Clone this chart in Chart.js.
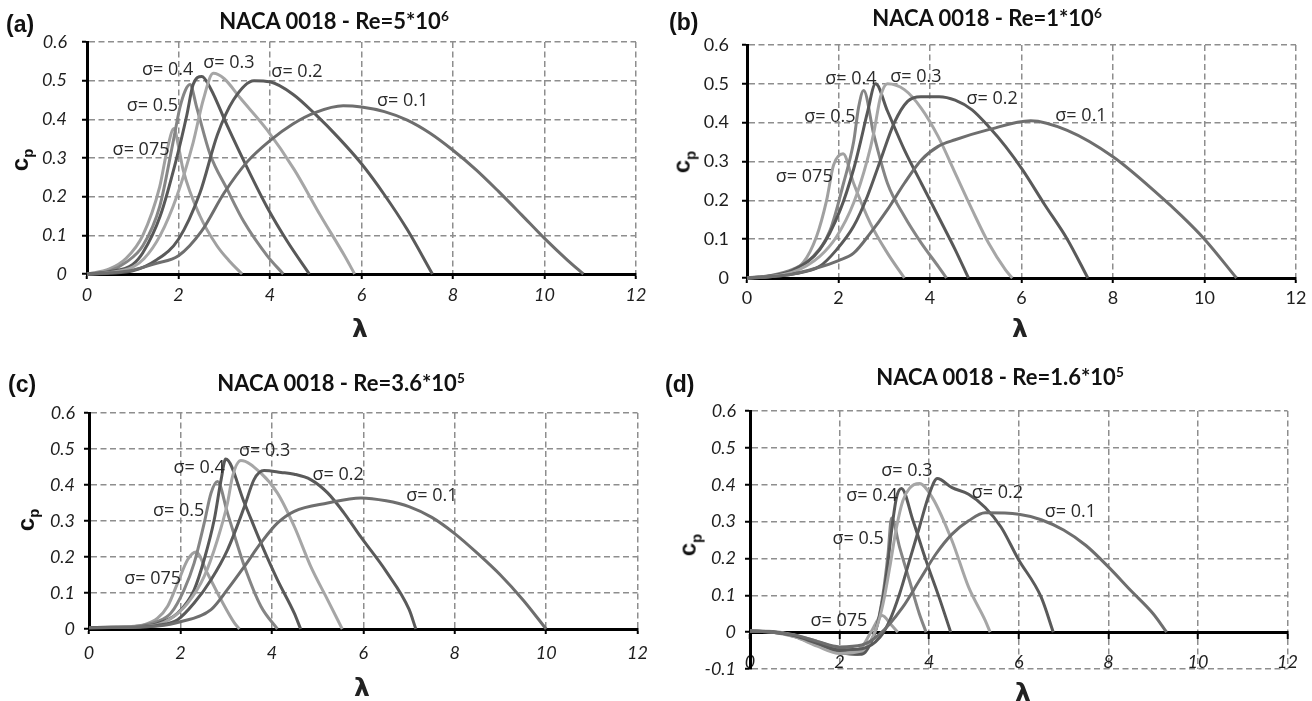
<!DOCTYPE html>
<html><head><meta charset="utf-8">
<script src="https://cdn.jsdelivr.net/npm/chart.js@4.4.1/dist/chart.umd.min.js"></script>
<style>
html,body{margin:0;padding:0;background:#fff;}
#wrap{position:relative;width:1312px;height:701px;overflow:hidden;}
canvas{position:absolute;}
.pl{position:absolute;font:bold 23px "Liberation Sans",Arial,sans-serif;color:#111;transform:translateY(-50%);}
.ttl{position:absolute;font:bold 22px Lato,"Open Sans",sans-serif;color:#111;white-space:nowrap;transform:translate(-50%,-50%);}
.ttl sup{font-size:0.62em;vertical-align:0;position:relative;top:-0.62em;}
.lam{position:absolute;font:bold 25px "DejaVu Sans",sans-serif;transform:translate(-50%,-50%);color:#222;}
.cp{position:absolute;font:bold 24px "Liberation Sans",Arial,sans-serif;transform:translate(-50%,-50%) rotate(-90deg);color:#111;white-space:nowrap;}
.cp sub{font-size:0.62em;}
</style></head>
<body><div id="wrap">
<canvas id="ca" width="656" height="350" style="left:0;top:0;width:656px;height:350px"></canvas>
<canvas id="cb" width="656" height="350" style="left:656px;top:0;width:656px;height:350px"></canvas>
<canvas id="cc" width="656" height="351" style="left:0;top:350px;width:656px;height:351px"></canvas>
<canvas id="cd" width="656" height="351" style="left:656px;top:350px;width:656px;height:351px"></canvas>

<div class="pl" style="left:6px;top:24px">(a)</div>
<div class="pl" style="left:669px;top:22px">(b)</div>
<div class="pl" style="left:8px;top:384px">(c)</div>
<div class="pl" style="left:665px;top:384px">(d)</div>

<div class="ttl" style="left:334px;top:20px">NACA 0018 - Re=5*10<sup>6</sup></div>
<div class="ttl" style="left:987px;top:17px">NACA 0018 - Re=1*10<sup>6</sup></div>
<div class="ttl" style="left:341px;top:382px">NACA 0018 - Re=3.6*10<sup>5</sup></div>
<div class="ttl" style="left:1000px;top:376px">NACA 0018 - Re=1.6*10<sup>5</sup></div>

<div class="lam" style="left:360px;top:328px">λ</div>
<div class="lam" style="left:1020px;top:328px">λ</div>
<div class="lam" style="left:362px;top:687px">λ</div>
<div class="lam" style="left:1023px;top:692px">λ</div>

<div class="cp" style="left:21px;top:160px">c<sub>p</sub></div>
<div class="cp" style="left:683px;top:162px">c<sub>p</sub></div>
<div class="cp" style="left:27px;top:520px">c<sub>p</sub></div>
<div class="cp" style="left:689px;top:545px">c<sub>p</sub></div>
</div>
<script>
// ---------- tick values ----------
const xTickValues = [0, 2, 4, 6, 8, 10, 12];
const xTickLabels = ['0', '2', '4', '6', '8', '10', '12'];
const yTickValues = [0, 0.1, 0.2, 0.3, 0.4, 0.5, 0.6];
const yTickLabels = ['0', '0.1', '0.2', '0.3', '0.4', '0.5', '0.6'];
const yTickValuesD = [-0.1, 0, 0.1, 0.2, 0.3, 0.4, 0.5, 0.6];
const yTickLabelsD = ['-0.1', '0', '0.1', '0.2', '0.3', '0.4', '0.5', '0.6'];

// ---------- series names / colours ----------
const sigmaNames = ['σ= 0.1', 'σ= 0.2', 'σ= 0.3', 'σ= 0.4', 'σ= 0.5', 'σ= 075'];
const sigmaColors = ['#6e6e6e', '#5a5a5a', '#a6a6a6', '#585858', '#858585', '#a0a0a0'];

// ---------- (a) Re = 5e6 ----------
const a01Lam = [0, 0.5, 1, 1.5, 2, 2.5, 3, 3.5, 4, 4.5, 5, 5.6, 6, 6.5, 7, 7.5, 8, 8.5, 9, 9.5, 10, 10.5, 10.85];
const a01Cp  = [0, 0.003, 0.01, 0.027, 0.047, 0.11, 0.21, 0.29, 0.345, 0.388, 0.418, 0.435, 0.432, 0.42, 0.398, 0.364, 0.32, 0.27, 0.213, 0.153, 0.092, 0.036, 0];
const a02Lam = [0, 0.5, 1, 1.5, 2, 2.47, 2.85, 3.2, 3.65, 4, 4.5, 5, 5.5, 6, 6.5, 7, 7.55];
const a02Cp  = [0, 0.002, 0.008, 0.035, 0.09, 0.21, 0.36, 0.45, 0.5, 0.497, 0.465, 0.412, 0.352, 0.285, 0.205, 0.115, 0];
const a03Lam = [0, 0.5, 1, 1.25, 1.6, 1.96, 2.32, 2.54, 2.76, 3, 3.35, 3.94, 4.53, 5.1, 5.63, 5.85];
const a03Cp  = [0, 0.004, 0.018, 0.04, 0.1, 0.2, 0.34, 0.45, 0.519, 0.505, 0.455, 0.372, 0.27, 0.152, 0.047, 0];
const a04Lam = [0, 0.5, 1, 1.22, 1.6, 1.96, 2.18, 2.32, 2.51, 2.7, 3.06, 3.5, 3.94, 4.38, 4.86];
const a04Cp  = [0, 0.006, 0.025, 0.055, 0.15, 0.3, 0.41, 0.49, 0.511, 0.48, 0.385, 0.275, 0.172, 0.084, 0];
const a05Lam = [0, 0.5, 0.85, 1.22, 1.59, 1.88, 2.03, 2.15, 2.25, 2.4, 2.69, 3.06, 3.43, 3.94, 4.29];
const a05Cp  = [0, 0.008, 0.03, 0.073, 0.175, 0.34, 0.43, 0.475, 0.49, 0.43, 0.31, 0.22, 0.135, 0.047, 0];
const a075Lam = [0, 0.49, 0.85, 1.22, 1.59, 1.75, 1.9, 2.0, 2.1, 2.47, 2.84, 3.1, 3.39];
const a075Cp  = [0, 0.013, 0.04, 0.1, 0.226, 0.32, 0.376, 0.33, 0.27, 0.15, 0.073, 0.035, 0];
const aLabelLam = [6.34, 4.03, 2.54, 1.2, 0.87, 0.56];
const aLabelCp  = [0.447, 0.523, 0.545, 0.529, 0.434, 0.32];

// ---------- (b) Re = 1e6 ----------
const b01Lam = [0, 0.5, 1, 1.5, 2, 2.33, 2.7, 3.07, 3.44, 3.81, 4.18, 4.55, 5.28, 6.2, 7, 8, 9, 9.5, 10, 10.7];
const b01Cp  = [0, 0.003, 0.01, 0.025, 0.045, 0.064, 0.116, 0.176, 0.244, 0.304, 0.339, 0.356, 0.382, 0.405, 0.38, 0.312, 0.214, 0.16, 0.1, 0];
const b02Lam = [0, 0.5, 1, 1.59, 1.96, 2.33, 2.63, 2.92, 3.22, 3.51, 3.8, 4.2, 4.55, 4.92, 5.28, 5.65, 6.02, 6.5, 7, 7.45];
const b02Cp  = [0, 0.003, 0.01, 0.03, 0.073, 0.133, 0.21, 0.304, 0.4, 0.455, 0.467, 0.467, 0.458, 0.433, 0.39, 0.339, 0.279, 0.19, 0.1, 0];
const b03Lam = [0, 0.5, 1, 1.59, 1.96, 2.33, 2.63, 2.77, 2.92, 3.07, 3.44, 3.81, 4.18, 4.55, 4.92, 5.28, 5.65, 5.8];
const b03Cp  = [0, 0.004, 0.015, 0.056, 0.107, 0.193, 0.304, 0.373, 0.467, 0.5, 0.485, 0.437, 0.364, 0.27, 0.176, 0.09, 0.021, 0];
const b04Lam = [0, 0.5, 1, 1.59, 2.04, 2.33, 2.48, 2.63, 2.81, 3.07, 3.44, 3.81, 4.18, 4.55, 4.84];
const b04Cp  = [0, 0.005, 0.02, 0.073, 0.176, 0.28, 0.35, 0.425, 0.5, 0.43, 0.33, 0.244, 0.159, 0.073, 0];
const b05Lam = [0, 0.5, 1, 1.45, 1.82, 2.11, 2.33, 2.44, 2.55, 2.77, 3.07, 3.44, 3.81, 4.18, 4.36];
const b05Cp  = [0, 0.006, 0.022, 0.056, 0.124, 0.244, 0.35, 0.44, 0.483, 0.37, 0.244, 0.159, 0.09, 0.03, 0];
const b075Lam = [0, 0.5, 0.86, 1.23, 1.52, 1.74, 1.89, 2.1, 2.33, 2.7, 3.07, 3.44];
const b075Cp  = [0, 0.006, 0.013, 0.04, 0.107, 0.2, 0.29, 0.32, 0.244, 0.14, 0.064, 0];
const bLabelLam = [6.74, 4.8, 3.13, 1.71, 1.25, 0.63];
const bLabelCp  = [0.418, 0.461, 0.517, 0.514, 0.414, 0.26];

// ---------- (c) Re = 3.6e5 ----------
const c01Lam = [0, 0.5, 1, 1.5, 2, 2.67, 3.03, 3.4, 3.76, 4.12, 4.49, 5.22, 5.95, 6.5, 7, 7.5, 8, 8.5, 9, 9.5, 10];
const c01Cp  = [0.003, 0.004, 0.005, 0.008, 0.02, 0.054, 0.11, 0.174, 0.239, 0.294, 0.327, 0.35, 0.364, 0.356, 0.34, 0.31, 0.265, 0.21, 0.15, 0.08, 0];
const c02Lam = [0, 0.5, 1, 1.5, 1.94, 2.3, 2.67, 3.03, 3.4, 3.61, 3.83, 4.2, 4.49, 4.85, 5.22, 5.58, 5.95, 6.5, 7, 7.15];
const c02Cp  = [0.004, 0.004, 0.005, 0.01, 0.026, 0.072, 0.137, 0.22, 0.34, 0.415, 0.44, 0.435, 0.43, 0.415, 0.378, 0.322, 0.255, 0.16, 0.055, 0];
const c03Lam = [0, 0.5, 1, 1.5, 1.8, 2.16, 2.52, 2.81, 3.03, 3.14, 3.32, 3.76, 4.12, 4.49, 4.85, 5.22, 5.54];
const c03Cp  = [0.004, 0.005, 0.006, 0.012, 0.03, 0.072, 0.146, 0.248, 0.35, 0.424, 0.468, 0.433, 0.378, 0.285, 0.174, 0.081, 0];
const c04Lam = [0, 0.5, 1, 1.5, 1.94, 2.3, 2.52, 2.74, 2.89, 2.99, 3.4, 3.76, 4.12, 4.49, 4.63];
const c04Cp  = [0.004, 0.005, 0.006, 0.015, 0.044, 0.109, 0.193, 0.304, 0.415, 0.472, 0.35, 0.239, 0.137, 0.044, 0];
const c05Lam = [0, 0.5, 1, 1.5, 1.79, 2.08, 2.3, 2.52, 2.67, 2.81, 3.03, 3.4, 3.76, 4.12];
const c05Cp  = [0.004, 0.005, 0.007, 0.021, 0.044, 0.109, 0.183, 0.294, 0.378, 0.41, 0.322, 0.174, 0.063, 0];
const c075Lam = [0, 0.5, 1, 1.21, 1.5, 1.72, 1.94, 2.16, 2.34, 2.59, 2.89, 3.18, 3.29];
const c075Cp  = [0.004, 0.005, 0.008, 0.012, 0.03, 0.063, 0.128, 0.193, 0.214, 0.155, 0.081, 0.017, 0];
const cLabelLam = [6.94, 4.89, 3.28, 1.85, 1.4, 0.77];
const cLabelCp  = [0.369, 0.429, 0.494, 0.447, 0.327, 0.139];

// ---------- (d) Re = 1.6e5 ----------
const d01Lam = [0, 0.5, 1, 1.5, 2, 2.5, 2.9, 3.41, 3.78, 4.15, 4.51, 4.88, 5.25, 6, 6.5, 7, 7.5, 8, 8.5, 9, 9.3];
const d01Cp  = [0.003, 0.0, -0.008, -0.025, -0.04, -0.035, -0.005, 0.068, 0.14, 0.212, 0.266, 0.302, 0.324, 0.32, 0.305, 0.277, 0.235, 0.177, 0.113, 0.05, 0];
const d02Lam = [0, 0.5, 1, 1.5, 2, 2.5, 2.9, 3.12, 3.34, 3.56, 3.78, 4.0, 4.18, 4.51, 4.88, 5.25, 5.61, 5.98, 6.5, 6.77];
const d02Cp  = [0.003, 0.0, -0.01, -0.03, -0.048, -0.045, -0.014, 0.032, 0.104, 0.194, 0.284, 0.374, 0.417, 0.392, 0.374, 0.338, 0.284, 0.2, 0.095, 0];
const d03Lam = [0, 0.5, 1, 1.5, 2, 2.5, 2.83, 2.97, 3.12, 3.27, 3.41, 3.56, 3.78, 4.07, 4.51, 4.88, 5.25, 5.36];
const d03Cp  = [0.003, 0.0, -0.013, -0.038, -0.058, -0.05, 0.014, 0.077, 0.176, 0.284, 0.356, 0.39, 0.403, 0.365, 0.248, 0.122, 0.032, 0];
const d04Lam = [0, 0.5, 1, 1.5, 2, 2.5, 2.75, 2.9, 3.05, 3.16, 3.27, 3.38, 3.64, 3.93, 4.22, 4.48];
const d04Cp  = [0.003, 0.001, -0.012, -0.035, -0.055, -0.06, -0.014, 0.05, 0.158, 0.275, 0.365, 0.39, 0.302, 0.194, 0.095, 0];
const d05Lam = [0, 0.5, 1, 1.5, 2, 2.4, 2.68, 2.83, 2.97, 3.08, 3.16, 3.34, 3.56, 3.78, 3.93];
const d05Cp  = [0.003, 0.001, -0.01, -0.03, -0.052, -0.06, -0.03, 0.014, 0.104, 0.21, 0.31, 0.23, 0.14, 0.05, 0];
const d075Lam = [0, 0.5, 1, 1.5, 2, 2.3, 2.5, 2.7, 2.95, 3.15, 3.3];
const d075Cp  = [0.003, 0.002, -0.008, -0.025, -0.045, -0.05, -0.04, 0.0, 0.045, 0.02, 0];
const dLabelLam = [6.58, 4.95, 2.93, 2.15, 1.84, 1.35];
const dLabelCp  = [0.325, 0.378, 0.438, 0.37, 0.254, 0.03];

// ---------- helpers ----------
function series(lams, cps) {
  return lams.map((lam, k) => ({
    data: lam.map((v, i) => ({ x: v, y: cps[k][i] })),
    borderColor: sigmaColors[k],
    borderWidth: 3,
    pointRadius: 0,
    showLine: true,
    fill: false,
    cubicInterpolationMode: 'monotone',
    clip: 4
  }));
}

function labelPlugin(lx, ly) {
  return {
    id: 'sigmaLabels',
    afterDatasetsDraw(chart) {
      const ctx = chart.ctx, xs = chart.scales.x, ys = chart.scales.y;
      ctx.save();
      ctx.font = '18px "Open Sans", sans-serif';
      ctx.fillStyle = '#2a2a2a';
      ctx.textAlign = 'left';
      ctx.textBaseline = 'middle';
      sigmaNames.forEach((t, i) => {
        ctx.fillText(t, xs.getPixelForValue(lx[i]), ys.getPixelForValue(ly[i]));
      });
      ctx.restore();
    }
  };
}

function makePanel(id, datasets, lx, ly, o) {
  const family = 'Lato, "Open Sans", sans-serif';
  const style = o.italic ? 'italic' : 'normal';
  const yVals = o.neg ? yTickValuesD : yTickValues;
  const yLabs = o.neg ? yTickLabelsD : yTickLabels;
  const gridCommon = { color: '#8e8e8e', lineWidth: 1.5, tickColor: '#000', tickWidth: 2, tickLength: 5, drawTicks: true };
  const borderCommon = { display: true, color: '#000', width: 3, dash: [6, 3.5] };
  new Chart(document.getElementById(id), {
    type: 'scatter',
    data: { datasets },
    options: {
      responsive: false, animation: false, devicePixelRatio: 1,
      layout: { padding: { top: o.top, right: o.right, left: 0, bottom: o.bottom } },
      plugins: { legend: { display: false }, tooltip: { enabled: false }, title: { display: false } },
      scales: {
        x: {
          type: 'linear', min: 0, max: 12,
          position: o.neg ? { y: 0 } : 'bottom',
          afterBuildTicks: s => { s.ticks = xTickValues.map(v => ({ value: v })); },
          afterFit: s => { s.height = o.xH; },
          ticks: { autoSkip: false, maxRotation: 0, padding: o.xPad, color: '#1e1e1e',
                   font: { family, size: 18, style }, callback: (v, i) => xTickLabels[i] },
          grid: gridCommon, border: borderCommon
        },
        y: {
          type: 'linear', min: yVals[0], max: 0.6,
          afterBuildTicks: s => { s.ticks = yVals.map(v => ({ value: v })); },
          afterFit: s => { s.width = o.yW; },
          ticks: { autoSkip: false, padding: o.yPad, color: '#1e1e1e',
                   font: { family, size: 18, style }, callback: (v, i) => yLabs[i] },
          grid: gridCommon, border: borderCommon
        }
      }
    },
    plugins: [labelPlugin(lx, ly)]
  });
}

makePanel('ca', series([a01Lam, a02Lam, a03Lam, a04Lam, a05Lam, a075Lam], [a01Cp, a02Cp, a03Cp, a04Cp, a05Cp, a075Cp]),
  aLabelLam, aLabelCp, { italic: true, top: 42, right: 20, bottom: 0, xH: 76, yW: 87, xPad: 5, yPad: 15 });
makePanel('cb', series([b01Lam, b02Lam, b03Lam, b04Lam, b05Lam, b075Lam], [b01Cp, b02Cp, b03Cp, b04Cp, b05Cp, b075Cp]),
  bLabelLam, bLabelCp, { italic: false, top: 45, right: 16, bottom: 0, xH: 72, yW: 91, xPad: 4, yPad: 13 });
makePanel('cc', series([c01Lam, c02Lam, c03Lam, c04Lam, c05Lam, c075Lam], [c01Cp, c02Cp, c03Cp, c04Cp, c05Cp, c075Cp]),
  cLabelLam, cLabelCp, { italic: true, top: 63, right: 16, bottom: 0, xH: 72, yW: 89, xPad: 8, yPad: 9 });
makePanel('cd', series([d01Lam, d02Lam, d03Lam, d04Lam, d05Lam, d075Lam], [d01Cp, d02Cp, d03Cp, d04Cp, d05Cp, d075Cp]),
  dLabelLam, dLabelCp, { italic: true, neg: true, top: 61, right: 15, bottom: 32, xH: 0, yW: 94, xPad: 14, yPad: 9 });
</script>
</body></html>
